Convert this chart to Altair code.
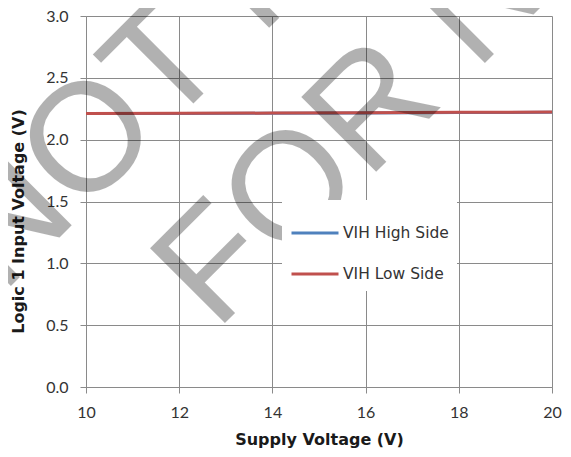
import altair as alt
import pandas as pd

# ---- data ----
supply_v = [10, 12, 14, 16, 18, 20]
vih_high_side = [2.211, 2.212, 2.214, 2.216, 2.219, 2.221]
vih_low_side = [2.212, 2.213, 2.215, 2.218, 2.221, 2.223]
series_names = ["VIH High Side", "VIH Low Side"]
series_colors = ["#4F81BD", "#C0504D"]
x_ticks = [10, 12, 14, 16, 18, 20]
y_ticks = [0.0, 0.5, 1.0, 1.5, 2.0, 2.5, 3.0]
watermark_lines = ["NOT RECOMMENDED", "FOR NEW DESIGN"]

rows = []
for name, vals in zip(series_names, [vih_high_side, vih_low_side]):
    for xv, yv in zip(supply_v, vals):
        rows.append({"supply": xv, "vih": yv, "series": name})
df = pd.DataFrame(rows)

FONT = "Lato"
WIDE = "DejaVu Sans"
GRID = "#8a8a8a"

lines = alt.Chart(df).mark_line(strokeWidth=3).encode(
    x=alt.X("supply:Q",
            scale=alt.Scale(domain=[10, 20], nice=False, zero=False),
            axis=alt.Axis(values=x_ticks, title="Supply Voltage (V)", format="d",
                          tickSize=6, labelPadding=11, labelFlush=False,
                          titleY=57, titleBaseline="alphabetic")),
    y=alt.Y("vih:Q",
            scale=alt.Scale(domain=[0, 3], nice=False),
            axis=alt.Axis(values=y_ticks, title="Logic 1 Input Voltage (V)", format=".1f",
                          tickSize=6, labelPadding=12,
                          titleX=-68, titleY=205, titleAngle=270,
                          titleBaseline="middle", titleAlign="center")),
    color=alt.Color("series:N",
                    scale=alt.Scale(domain=series_names, range=series_colors),
                    legend=alt.Legend(title=None, orient="none", legendX=196, legendY=184,
                                      fillColor="white", padding=8,
                                      symbolType="stroke", symbolStrokeWidth=3,
                                      symbolSize=2209, labelFontSize=15.5,
                                      labelFont=WIDE, labelColor="#333333",
                                      labelOffset=3, rowPadding=7)),
)

wm1 = alt.Chart().mark_text(
    text=watermark_lines[0], font="Liberation Sans", fontSize=154, angle=315,
    align="left", baseline="alphabetic", fill="#000000", opacity=0.3
).encode(x=alt.value(-84), y=alt.value(279))

wm2 = alt.Chart().mark_text(
    text=watermark_lines[1], font="Liberation Sans", fontSize=154, angle=315,
    align="left", baseline="alphabetic", fill="#000000", opacity=0.3
).encode(x=alt.value(130), y=alt.value(316))

chart = alt.layer(lines, wm1, wm2).properties(
    width=466, height=371,
    background="white",
    autosize=alt.AutoSizeParams(type="none"),
    padding={"left": 78, "top": 8, "right": 11, "bottom": 62},
).configure_view(stroke=None).configure_axis(
    grid=True, gridColor=GRID, gridWidth=1, gridOpacity=1,
    domainColor=GRID, domainWidth=1, tickColor=GRID, tickWidth=1,
    labelFont=FONT, labelFontSize=16, labelColor="#333333",
    titleFont=WIDE, titleFontSize=16, titleFontWeight="bold", titleColor="#1a1a1a",
)

chart.save("out.html", embed_options={"renderer": "svg", "actions": False})
